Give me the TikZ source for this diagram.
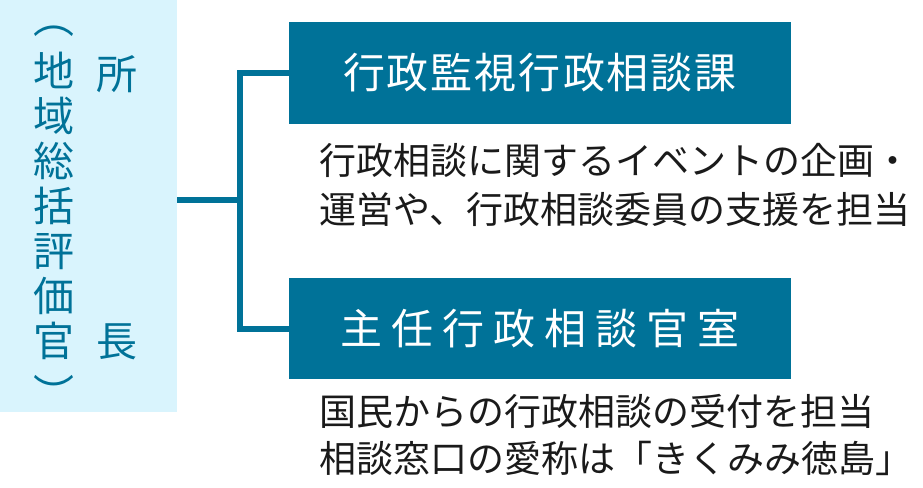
\documentclass[tikz,border=0pt]{standalone}
\usepackage{fontspec}
\setmainfont{Noto Sans CJK JP}
\definecolor{teal1}{HTML}{007298}
\definecolor{pale}{HTML}{D9F4FD}
\definecolor{ink}{HTML}{1A1A1A}
\makeatletter
\newcommand\spreadchars[2]{\@tfor\spr@c:=#2\do{\spr@c\hspace{#1}}\unskip}
\makeatother
\begin{document}
\begin{tikzpicture}[x=1pt,y=-1pt,
  chiefbox/.style={fill=pale,inner sep=0pt,minimum width=177pt,minimum height=412pt,anchor=north west},
  unitbox/.style={fill=teal1,text=white,inner sep=0pt,minimum width=502pt,minimum height=101pt,font=\fontsize{42}{46}\selectfont},
  vchar/.style={text=teal1,inner sep=0pt,font=\fontsize{41}{45}\selectfont},
  desc/.style={text=ink,inner sep=0pt,anchor=base west,font=\fontsize{37}{40}\selectfont},
  conn/.style={draw=teal1,line width=6pt,line join=miter}]
\useasboundingbox (0,0) rectangle (923,487);
\node[chiefbox] (chief) at (0,0) {};
% left column (vertical)
\node[vchar] (lp) at (54,31) {︵};
\node[vchar,align=center,font=\fontsize{41}{45.1}\selectfont,anchor=north] (title) at (54,51.5)
  {地\\域\\総\\括\\評\\価\\官};
\node[vchar] (rp) at (54,392) {︶};
\node[vchar] (sho) at (117,74) {所};
\node[vchar] (cho) at (117,342) {長};
% unit boxes
\node[unitbox] (u1) at (540,73) {\spreadchars{2pt}{行政監視行政相談課}};
\node[unitbox] (u2) at (540,328.5) {\spreadchars{9pt}{主任行政相談官室}};
% descriptions
\node[desc] (d1a) at (319,174) {行政相談に関するイベントの企画・};
\node[desc] (d1b) at (319,223) {運営や、行政相談委員の支援を担当};
\node[desc] (d2a) at (319,425) {国民からの行政相談の受付を担当};
\node[desc] (d2b) at (319,472) {相談窓口の愛称は「きくみみ徳島」};
% connectors
\coordinate (jn) at (240,200);
\draw[conn] (jn -| chief.east) -- (jn);
\draw[conn] (u1.west) -| (jn) |- (u2.west);
\end{tikzpicture}
\end{document}
